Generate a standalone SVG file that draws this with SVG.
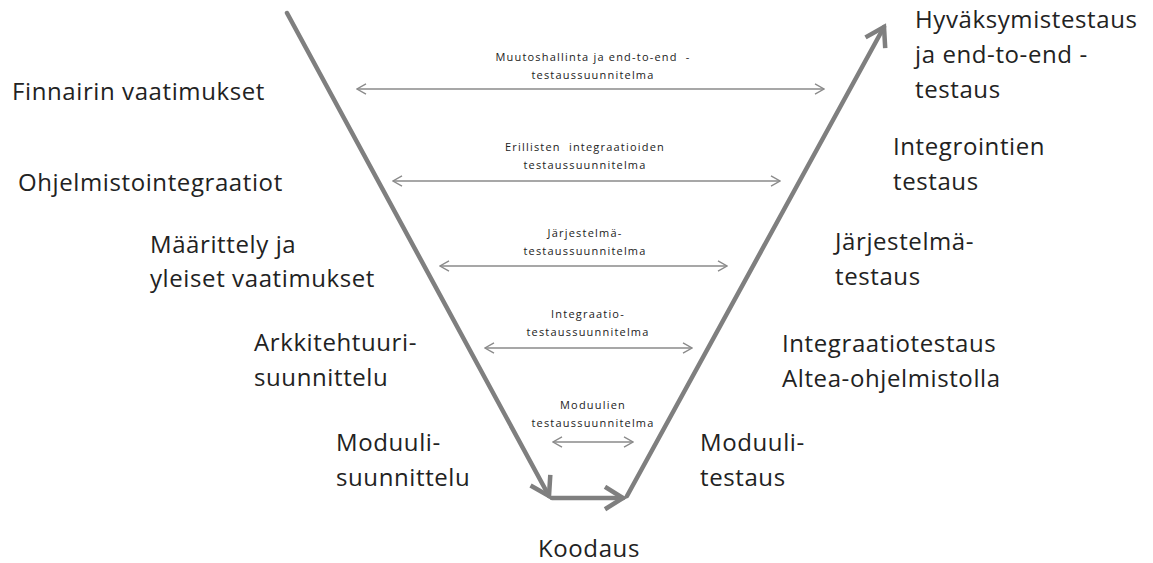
<svg xmlns="http://www.w3.org/2000/svg" width="1153" height="563" viewBox="0 0 1153 563">
<style>
.big{font-family:"Open Sans","Liberation Sans",sans-serif;font-size:24px;letter-spacing:0.6px;fill:#222}
.small{font-family:"Open Sans","Liberation Sans",sans-serif;font-size:11px;letter-spacing:1.2px;fill:#222;text-anchor:middle;white-space:pre}
.v{stroke:#7f7f7f;stroke-width:4.5;fill:none;stroke-linecap:round}
.h{stroke:#8a8a8a;stroke-width:1.5;fill:none}
</style>
<defs>
<marker id="bigArrow" viewBox="0 0 12 12" refX="10" refY="6" markerWidth="6" markerHeight="6" orient="auto" markerUnits="strokeWidth">
<path d="M2,1 L10,6 L2,11" fill="none" stroke="#7f7f7f" stroke-width="2" stroke-linejoin="miter"/>
</marker>
<marker id="thinEnd" viewBox="0 0 12 12" refX="11" refY="6" markerWidth="9" markerHeight="9" orient="auto" markerUnits="strokeWidth">
<path d="M3,1.5 L11,6 L3,10.5" fill="none" stroke="#8a8a8a" stroke-width="1.2"/>
</marker>
<marker id="thinStart" viewBox="0 0 12 12" refX="1" refY="6" markerWidth="9" markerHeight="9" orient="auto" markerUnits="strokeWidth">
<path d="M9,1.5 L1,6 L9,10.5" fill="none" stroke="#8a8a8a" stroke-width="1.2"/>
</marker>
</defs>
<g id="connectors">
<line class="v" x1="287" y1="13" x2="549" y2="496" marker-end="url(#bigArrow)"/>
<line class="v" x1="552" y1="498" x2="623" y2="498" marker-end="url(#bigArrow)"/>
<line class="v" x1="627" y1="496" x2="884" y2="27" marker-end="url(#bigArrow)"/>
<line class="h" x1="357" y1="89" x2="824" y2="89" marker-start="url(#thinStart)" marker-end="url(#thinEnd)"/>
<line class="h" x1="393" y1="181" x2="780" y2="181" marker-start="url(#thinStart)" marker-end="url(#thinEnd)"/>
<line class="h" x1="440" y1="266" x2="727" y2="266" marker-start="url(#thinStart)" marker-end="url(#thinEnd)"/>
<line class="h" x1="485" y1="348" x2="692" y2="348" marker-start="url(#thinStart)" marker-end="url(#thinEnd)"/>
<line class="h" x1="553" y1="442" x2="633" y2="442" marker-start="url(#thinStart)" marker-end="url(#thinEnd)"/>
</g>
<g id="label-muutos"><text class="small" x="593" y="61" xml:space="preserve">Muutoshallinta ja end-to-end  -</text><text class="small" x="593" y="79">testaussuunnitelma</text></g>
<g id="label-erillisten"><text class="small" x="585" y="151" xml:space="preserve">Erillisten  integraatioiden</text><text class="small" x="585" y="169">testaussuunnitelma</text></g>
<g id="label-jarjestelma"><text class="small" x="585" y="237">Järjestelmä-</text><text class="small" x="585" y="255">testaussuunnitelma</text></g>
<g id="label-integraatio"><text class="small" x="588" y="318">Integraatio-</text><text class="small" x="588" y="336">testaussuunnitelma</text></g>
<g id="label-moduulien"><text class="small" x="593" y="409">Moduulien</text><text class="small" x="593" y="427">testaussuunnitelma</text></g>
<g id="finnair"><text class="big" x="12" y="100">Finnairin vaatimukset</text></g>
<g id="ohjelmisto"><text class="big" x="18" y="191">Ohjelmistointegraatiot</text></g>
<g id="maarittely"><text class="big" x="150" y="253">Määrittely ja</text><text class="big" x="150" y="287">yleiset vaatimukset</text></g>
<g id="arkkitehtuuri"><text class="big" x="254" y="351">Arkkitehtuuri-</text><text class="big" x="254" y="386">suunnittelu</text></g>
<g id="moduulisuunnittelu"><text class="big" x="336" y="451">Moduuli-</text><text class="big" x="336" y="486">suunnittelu</text></g>
<g id="koodaus"><text class="big" x="538" y="557">Koodaus</text></g>
<g id="hyvaksymis"><text class="big" x="915" y="28">Hyväksymistestaus</text><text class="big" x="915" y="63">ja end-to-end -</text><text class="big" x="915" y="98">testaus</text></g>
<g id="integrointien"><text class="big" x="893" y="155">Integrointien</text><text class="big" x="893" y="190">testaus</text></g>
<g id="jarjestelmatestaus"><text class="big" x="835" y="250">Järjestelmä-</text><text class="big" x="835" y="285">testaus</text></g>
<g id="integraatiotestaus"><text class="big" x="782" y="352">Integraatiotestaus</text><text class="big" x="782" y="387">Altea-ohjelmistolla</text></g>
<g id="moduulitestaus"><text class="big" x="700" y="451">Moduuli-</text><text class="big" x="700" y="486">testaus</text></g>
</svg>
